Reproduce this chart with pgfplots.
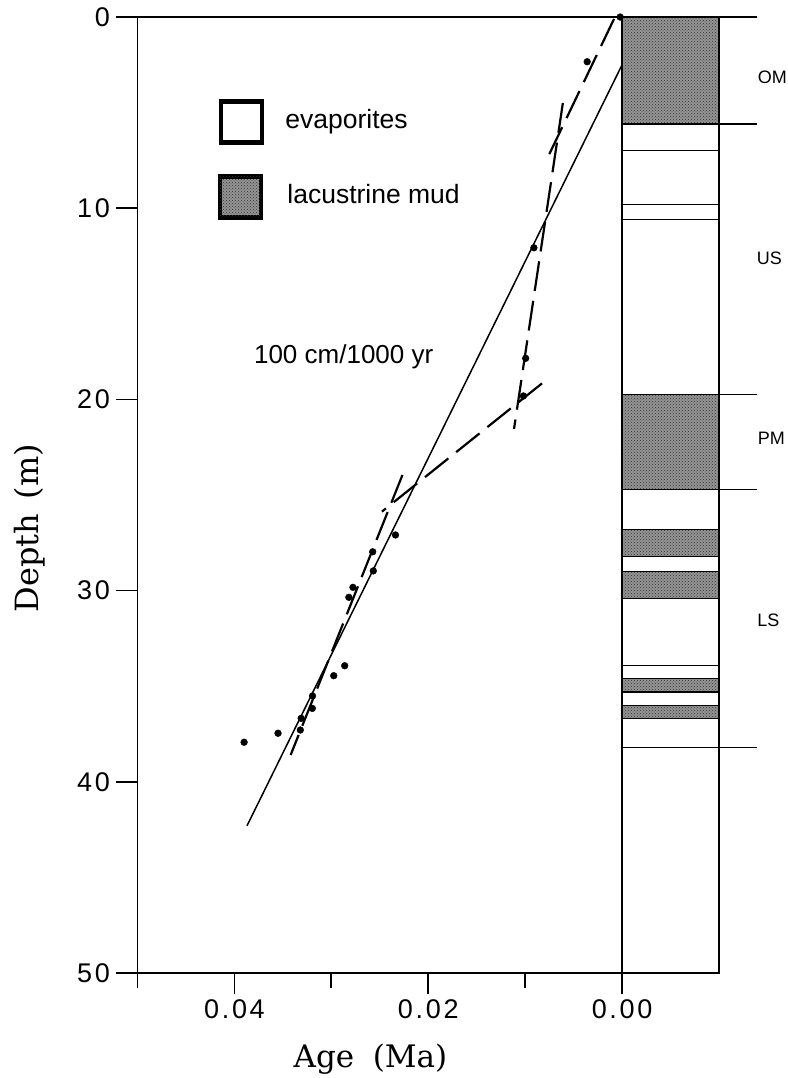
\documentclass[border=0pt]{standalone}
\usepackage{pgfplots}
\pgfplotsset{compat=1.18}
\usepackage{fontspec}
\setmainfont{Liberation Sans}
\newfontfamily\labelfont{DejaVu Serif}
\newfontfamily\tickfont[LetterSpace=10]{Liberation Sans}
\usetikzlibrary{patterns}

\tikzset{
  mud/.style={draw=black, line width=1.2pt, fill=black!42,
    postaction={pattern=crosshatch dots, pattern color=black!80}},
  fitline/.style={black, line width=2.2pt, dash pattern=on 30pt off 10pt},
}

\begin{document}
\begin{tikzpicture}
\path[use as bounding box] (-137.5pt,-105pt) rectangle (649.5pt,973pt);
\begin{axis}[
  at={(0pt,0pt)}, anchor=south west,
  scale only axis, width=581.5pt, height=956pt,
  x dir=reverse, y dir=reverse,
  xmin=-0.01, xmax=0.05, ymin=0, ymax=50,
  clip=false,
  scaled x ticks=false, scaled y ticks=false,
  axis line style={line width=1.8pt},
  tick style={black, line width=1.5pt},
  tick align=outside,
  major tick length=21pt,
  xtick pos=bottom, ytick pos=left,
  xtick={0,0.02,0.04}, xticklabels={0.00,0.02,0.04},
  ytick={0,10,20,30,40,50}, yticklabels={0,10,20,30,40,50},
  tick label style={font=\tickfont\fontsize{27}{27}\selectfont},
  xticklabel style={yshift=-2pt},
  yticklabel style={xshift=-3pt},
]

% ---- stratigraphic column (age 0 to -0.01) ----
% lacustrine mud layers
\addplot[mud] coordinates {(0,0) (-0.01,0) (-0.01,5.6) (0,5.6)} -- cycle;
\addplot[mud] coordinates {(0,19.75) (-0.01,19.75) (-0.01,24.7) (0,24.7)} -- cycle;
\addplot[mud] coordinates {(0,26.8) (-0.01,26.8) (-0.01,28.2) (0,28.2)} -- cycle;
\addplot[mud] coordinates {(0,29.0) (-0.01,29.0) (-0.01,30.4) (0,30.4)} -- cycle;
\addplot[mud] coordinates {(0,34.6) (-0.01,34.6) (-0.01,35.3) (0,35.3)} -- cycle;
\addplot[mud] coordinates {(0,36.0) (-0.01,36.0) (-0.01,36.7) (0,36.7)} -- cycle;
% thin bedding lines within the evaporites
\addplot[black, line width=1pt] coordinates {(0,7.0) (-0.01,7.0)};
\addplot[black, line width=1pt] coordinates {(0,9.8) (-0.01,9.8)};
\addplot[black, line width=1pt] coordinates {(0,10.6) (-0.01,10.6)};
\addplot[black, line width=1pt] coordinates {(0,33.9) (-0.01,33.9)};
\addplot[black, line width=1pt] coordinates {(0,38.2) (-0.01,38.2)};
% column left edge
\addplot[black, line width=1.8pt] coordinates {(0,0) (0,50)};
% unit boundaries to the right of the column
\addplot[black, line width=1.2pt] coordinates {(-0.01,0) (-0.0139,0)};
\addplot[black, line width=1.2pt] coordinates {(-0.01,5.6) (-0.0139,5.6)};
\addplot[black, line width=1.2pt] coordinates {(-0.01,19.75) (-0.0139,19.75)};
\addplot[black, line width=1.2pt] coordinates {(-0.01,24.7) (-0.0139,24.7)};
\addplot[black, line width=1.2pt] coordinates {(-0.01,38.2) (-0.0139,38.2)};

\node[font=\fontsize{18}{18}\selectfont, anchor=center, inner sep=0pt] at (axis cs:-0.0155,3.14) {OM};
\node[font=\fontsize{18}{18}\selectfont, anchor=center, inner sep=0pt] at (axis cs:-0.0152,12.62) {US};
\node[font=\fontsize{18}{18}\selectfont, anchor=center, inner sep=0pt] at (axis cs:-0.0154,22.03) {PM};
\node[font=\fontsize{18}{18}\selectfont, anchor=center, inner sep=0pt] at (axis cs:-0.0151,31.57) {LS};

% short intermediate ticks on the age axis
\draw[black, line width=1.8pt] (axis cs:0.05,50) -- ++(0pt,-15pt);
\draw[black, line width=1.8pt] (axis cs:0.03,50) -- ++(0pt,-15pt);
\draw[black, line width=1.8pt] (axis cs:0.01,50) -- ++(0pt,-15pt);

% ---- overall sedimentation-rate fit ----
\addplot[black, line width=1.5pt] coordinates {(0,2.5) (0.0387,42.3)};

% ---- segment fits ----
\addplot[fitline] coordinates {(0.00083,0.1) (0.00795,7.64)};
\addplot[fitline] coordinates {(0.00611,4.5) (0.01115,21.55)};
\addplot[fitline] coordinates {(0.00826,19.16) (0.02478,25.87)};
\addplot[fitline] coordinates {(0.02266,23.95) (0.0342,38.6)};

% ---- dated samples ----
\addplot[only marks, mark=*, mark size=3.4pt, black] coordinates {
  (0.0002,0.0) (0.0036,2.34) (0.0091,12.07) (0.00995,17.85) (0.01018,19.82)
  (0.02338,27.09) (0.02573,27.97) (0.02567,28.97) (0.02777,29.83)
  (0.02819,30.35) (0.02862,33.93) (0.02975,34.45) (0.03194,35.51)
  (0.03196,36.16) (0.03311,36.68) (0.0332,37.29) (0.0355,37.46)
  (0.0390,37.93)
};

% ---- key ----
\node[draw, line width=4.5pt, fill=white, minimum width=41pt, minimum height=41pt,
      inner sep=0pt, anchor=north west] at (axis cs:0.04162,4.30) {};
\node[draw, line width=4.5pt, fill=black!42, minimum width=41pt, minimum height=41pt,
      inner sep=0pt, anchor=north west,
      postaction={pattern=crosshatch dots, pattern color=black!80}] at (axis cs:0.04171,8.22) {};
\node[font=\fontsize{26.5}{26.5}\selectfont, anchor=base west, inner sep=0pt] at (axis cs:0.03476,5.81) {evaporites};
\node[font=\fontsize{26.5}{26.5}\selectfont, anchor=base west, inner sep=0pt] at (axis cs:0.03455,9.73) {lacustrine mud};

\node[font=\fontsize{26}{26}\selectfont, anchor=base west, inner sep=0pt] at (axis cs:0.03799,18.10) {100 cm/1000 yr};

% ---- axis titles ----
\node[font=\labelfont\fontsize{31}{31}\selectfont, anchor=base, inner sep=0pt] at (axis cs:0.02596,54.92) {Age\hspace{0.6em}(Ma)};
\node[font=\labelfont\fontsize{32}{32}\selectfont, anchor=center, rotate=90, inner sep=0pt] at (axis cs:0.06116,26.73) {Depth\hspace{0.45em}(m)};
\end{axis}
\end{tikzpicture}
\end{document}
